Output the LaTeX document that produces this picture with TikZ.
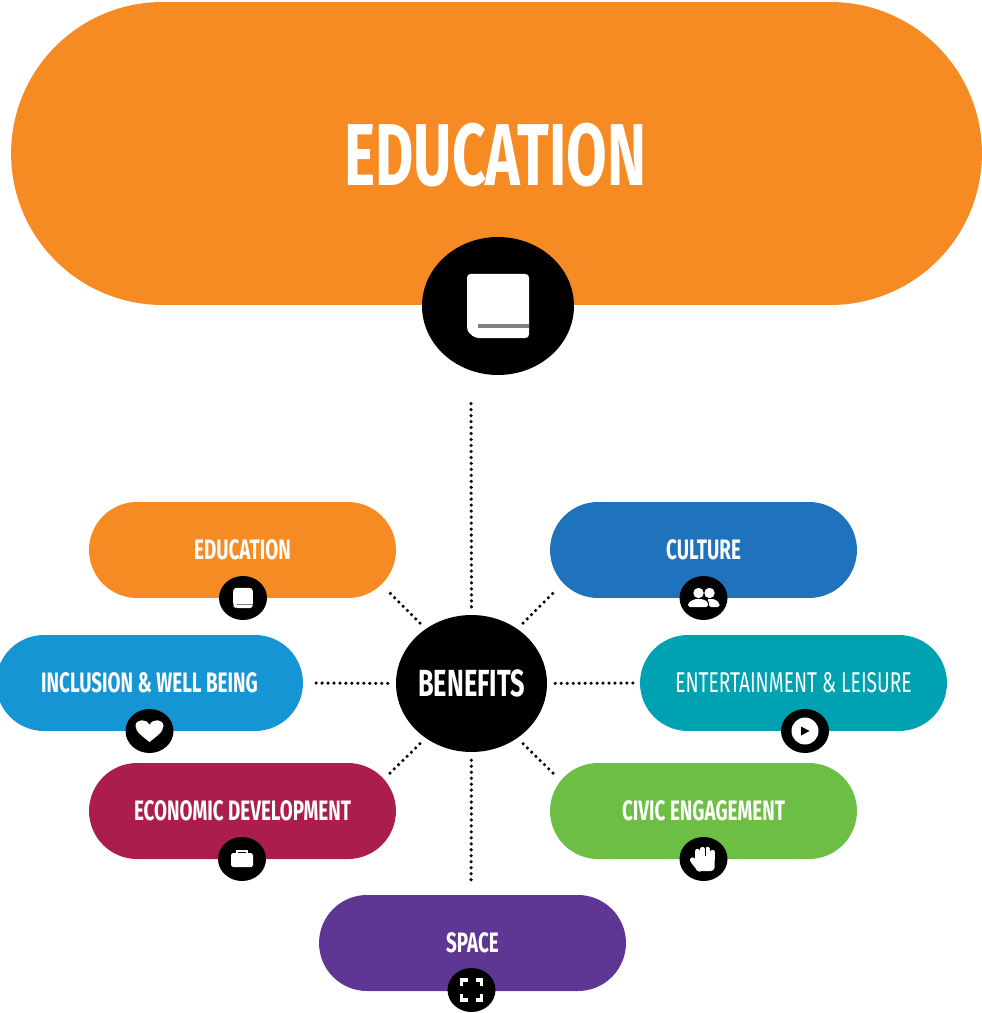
\documentclass[tikz,border=0pt]{standalone}
\usepackage{fontspec}
\newfontfamily\pillfont[FakeStretch=0.67]{Fira Sans}
\usetikzlibrary{shapes.geometric}
\definecolor{eduorange}{HTML}{F78B23}
\definecolor{cultureblue}{HTML}{1F73BC}
\definecolor{inclusionblue}{HTML}{1595D3}
\definecolor{leisureteal}{HTML}{00A1B1}
\definecolor{econred}{HTML}{AB1E4C}
\definecolor{civicgreen}{HTML}{6DBE45}
\definecolor{spacepurple}{HTML}{5E3794}

\begin{document}
\begin{tikzpicture}[x=0.02cm,y=-0.02cm,
                    pill/.style={rectangle,rounded corners=0.96cm,minimum width=6.14cm,minimum height=1.92cm,
                        inner sep=0pt,text=white,font=\pillfont\fontsize{16}{18}\selectfont\bfseries},
                    badge/.style={ellipse,fill=black,inner sep=0pt,minimum width=0.96cm,minimum height=0.88cm},
                    dotline/.style={line width=2pt,line cap=round,dash pattern=on 0pt off 3.4pt,shorten <=4.5pt},
                    book/.pic={
                        \fill[white,rounded corners=2] (-31,-32) -- (31,-32) -- (31,32) -- (-23,32) -- (-31,25) -- cycle;
                        \fill[gray] (-20,18) rectangle (31,22);
                    },
                    heart/.pic={
                        \fill[white] (0,11) .. controls (-6,6) and (-14,1) .. (-14,-5)
                            .. controls (-14,-12) and (-3,-13) .. (0,-6)
                            .. controls (3,-13) and (14,-12) .. (14,-5)
                            .. controls (14,1) and (6,6) .. (0,11) -- cycle;
                    },
                    play/.pic={
                        \fill[white] (0,0) circle (13.5);
                        \fill[black] (-4,-4.5) -- (4.5,0) -- (-4,4.5) -- cycle;
                    },
                    people/.pic={
                        \fill[white] (-5,-5) circle (5.2);
                        \fill[white] (6,-5) circle (5.2);
                        \fill[white,rounded corners=1] (-15.5,9) -- (-15.5,5) -- (-9,1) -- (-1,1) -- (4.5,4) -- (4.5,9) -- cycle;
                        \fill[white,rounded corners=1] (5.5,9) -- (5.5,3) -- (3,1) -- (11,1) -- (16,5) -- (16,9) -- cycle;
                    },
                    briefcase/.pic={
                        \draw[white,line width=1pt] (-5,-5) -- (-5,-8) -- (5,-8) -- (5,-5);
                        \fill[white,rounded corners=1] (-11,-6) rectangle (11,8);
                    },
                    hand/.pic={
                        \fill[white,rounded corners=2] (-8,-3) rectangle (11,12);
                        \draw[white,line width=2.5pt,line cap=round] (-6,0) -- (-6,-8);
                        \draw[white,line width=2.5pt,line cap=round] (-1,0) -- (-1,-10);
                        \draw[white,line width=2.5pt,line cap=round] (4,0) -- (4,-10);
                        \draw[white,line width=2.5pt,line cap=round] (9,0) -- (9,-7);
                        \draw[white,line width=3pt,line cap=round] (-4,10) -- (-11,1);
                        \draw[black,line width=0.4pt] (1.5,-12) -- (1.5,-3);
                    },
                    frame/.pic={
                        \draw[white,line width=2pt]
                            (-10,-4) -- (-10,-10) -- (-4,-10) (4,-10) -- (10,-10) -- (10,-4)
                            (10,4) -- (10,10) -- (4,10) (-4,10) -- (-10,10) -- (-10,4);
                    }]
                    \useasboundingbox (0,0) rectangle (982,1013);

                    % big heading
                    \node[pill,fill=eduorange,rounded corners=3.03cm,minimum width=19.42cm,minimum height=6.06cm] (heading) at (496.5,153.5) {};
                    \node[text=white,inner sep=0pt,font=\pillfont\fontsize{50}{54}\selectfont\bfseries] (headingtext) at (495.5,155) {EDUCATION};
                    \node[badge,minimum width=3.04cm,minimum height=2.76cm] (headingicon) at (498,306) {};
                    \pic at (headingicon.center) {book};

                    % the seven benefits
                    \node[pill,fill=eduorange] (education) at (242.5,550) {EDUCATION};
                    \node[pill,fill=cultureblue] (culture) at (703.5,550) {CULTURE};
                    \node[pill,fill=inclusionblue] (inclusion) at (149.5,683) {INCLUSION \& WELL BEING};
                    \node[pill,fill=leisureteal,font=\pillfont\fontsize{16.3}{18}\selectfont] (leisure) at (793.5,683) {ENTERTAINMENT \& LEISURE};
                    \node[pill,fill=econred] (economic) at (242.5,811) {ECONOMIC DEVELOPMENT};
                    \node[pill,fill=civicgreen] (civic) at (703.5,811) {CIVIC ENGAGEMENT};
                    \node[pill,fill=spacepurple] (space) at (472.5,943) {SPACE};

                    \node[badge] (educationicon) at (243,598) {};
                    \node[badge] (cultureicon) at (703.5,598) {};
                    \node[badge] (inclusionicon) at (149.5,731) {};
                    \node[badge] (leisureicon) at (805,731) {};
                    \node[badge] (economicicon) at (242,859) {};
                    \node[badge] (civicicon) at (703.5,859) {};
                    \node[badge] (spaceicon) at (471.5,990) {};
                    \pic[scale=0.32] at (educationicon.center) {book};
                    \pic at (cultureicon.center) {people};
                    \pic at (inclusionicon.center) {heart};
                    \pic at (leisureicon.center) {play};
                    \pic at (economicicon.center) {briefcase};
                    \pic at (civicicon.center) {hand};
                    \pic at (spaceicon.center) {frame};

                    % centre and dotted spokes
                    \node[ellipse,fill=black,text=white,inner sep=0pt,minimum width=3.02cm,minimum height=2.74cm,
                        font=\pillfont\fontsize{21.5}{24}\selectfont\bfseries] (benefits) at (471.5,683.5) {BENEFITS};
                    \coordinate (topend) at (471,400);
                    \coordinate (educationend) at (389,592);
                    \coordinate (cultureend) at (554,592);
                    \coordinate (inclusionend) at (313,683);
                    \coordinate (leisureend) at (634,683);
                    \coordinate (economicend) at (388,775);
                    \coordinate (civicend) at (555,775);
                    \coordinate (spaceend) at (471,885);
                    \draw[dotline] (benefits.north) -- (topend);
                    \draw[dotline] (benefits.130) -- (educationend);
                    \draw[dotline] (benefits.50) -- (cultureend);
                    \draw[dotline] (benefits.west) -- (inclusionend);
                    \draw[dotline] (benefits.east) -- (leisureend);
                    \draw[dotline] (benefits.230) -- (economicend);
                    \draw[dotline] (benefits.310) -- (civicend);
                    \draw[dotline] (benefits.south) -- (spaceend);
                \end{tikzpicture}
\end{document}
